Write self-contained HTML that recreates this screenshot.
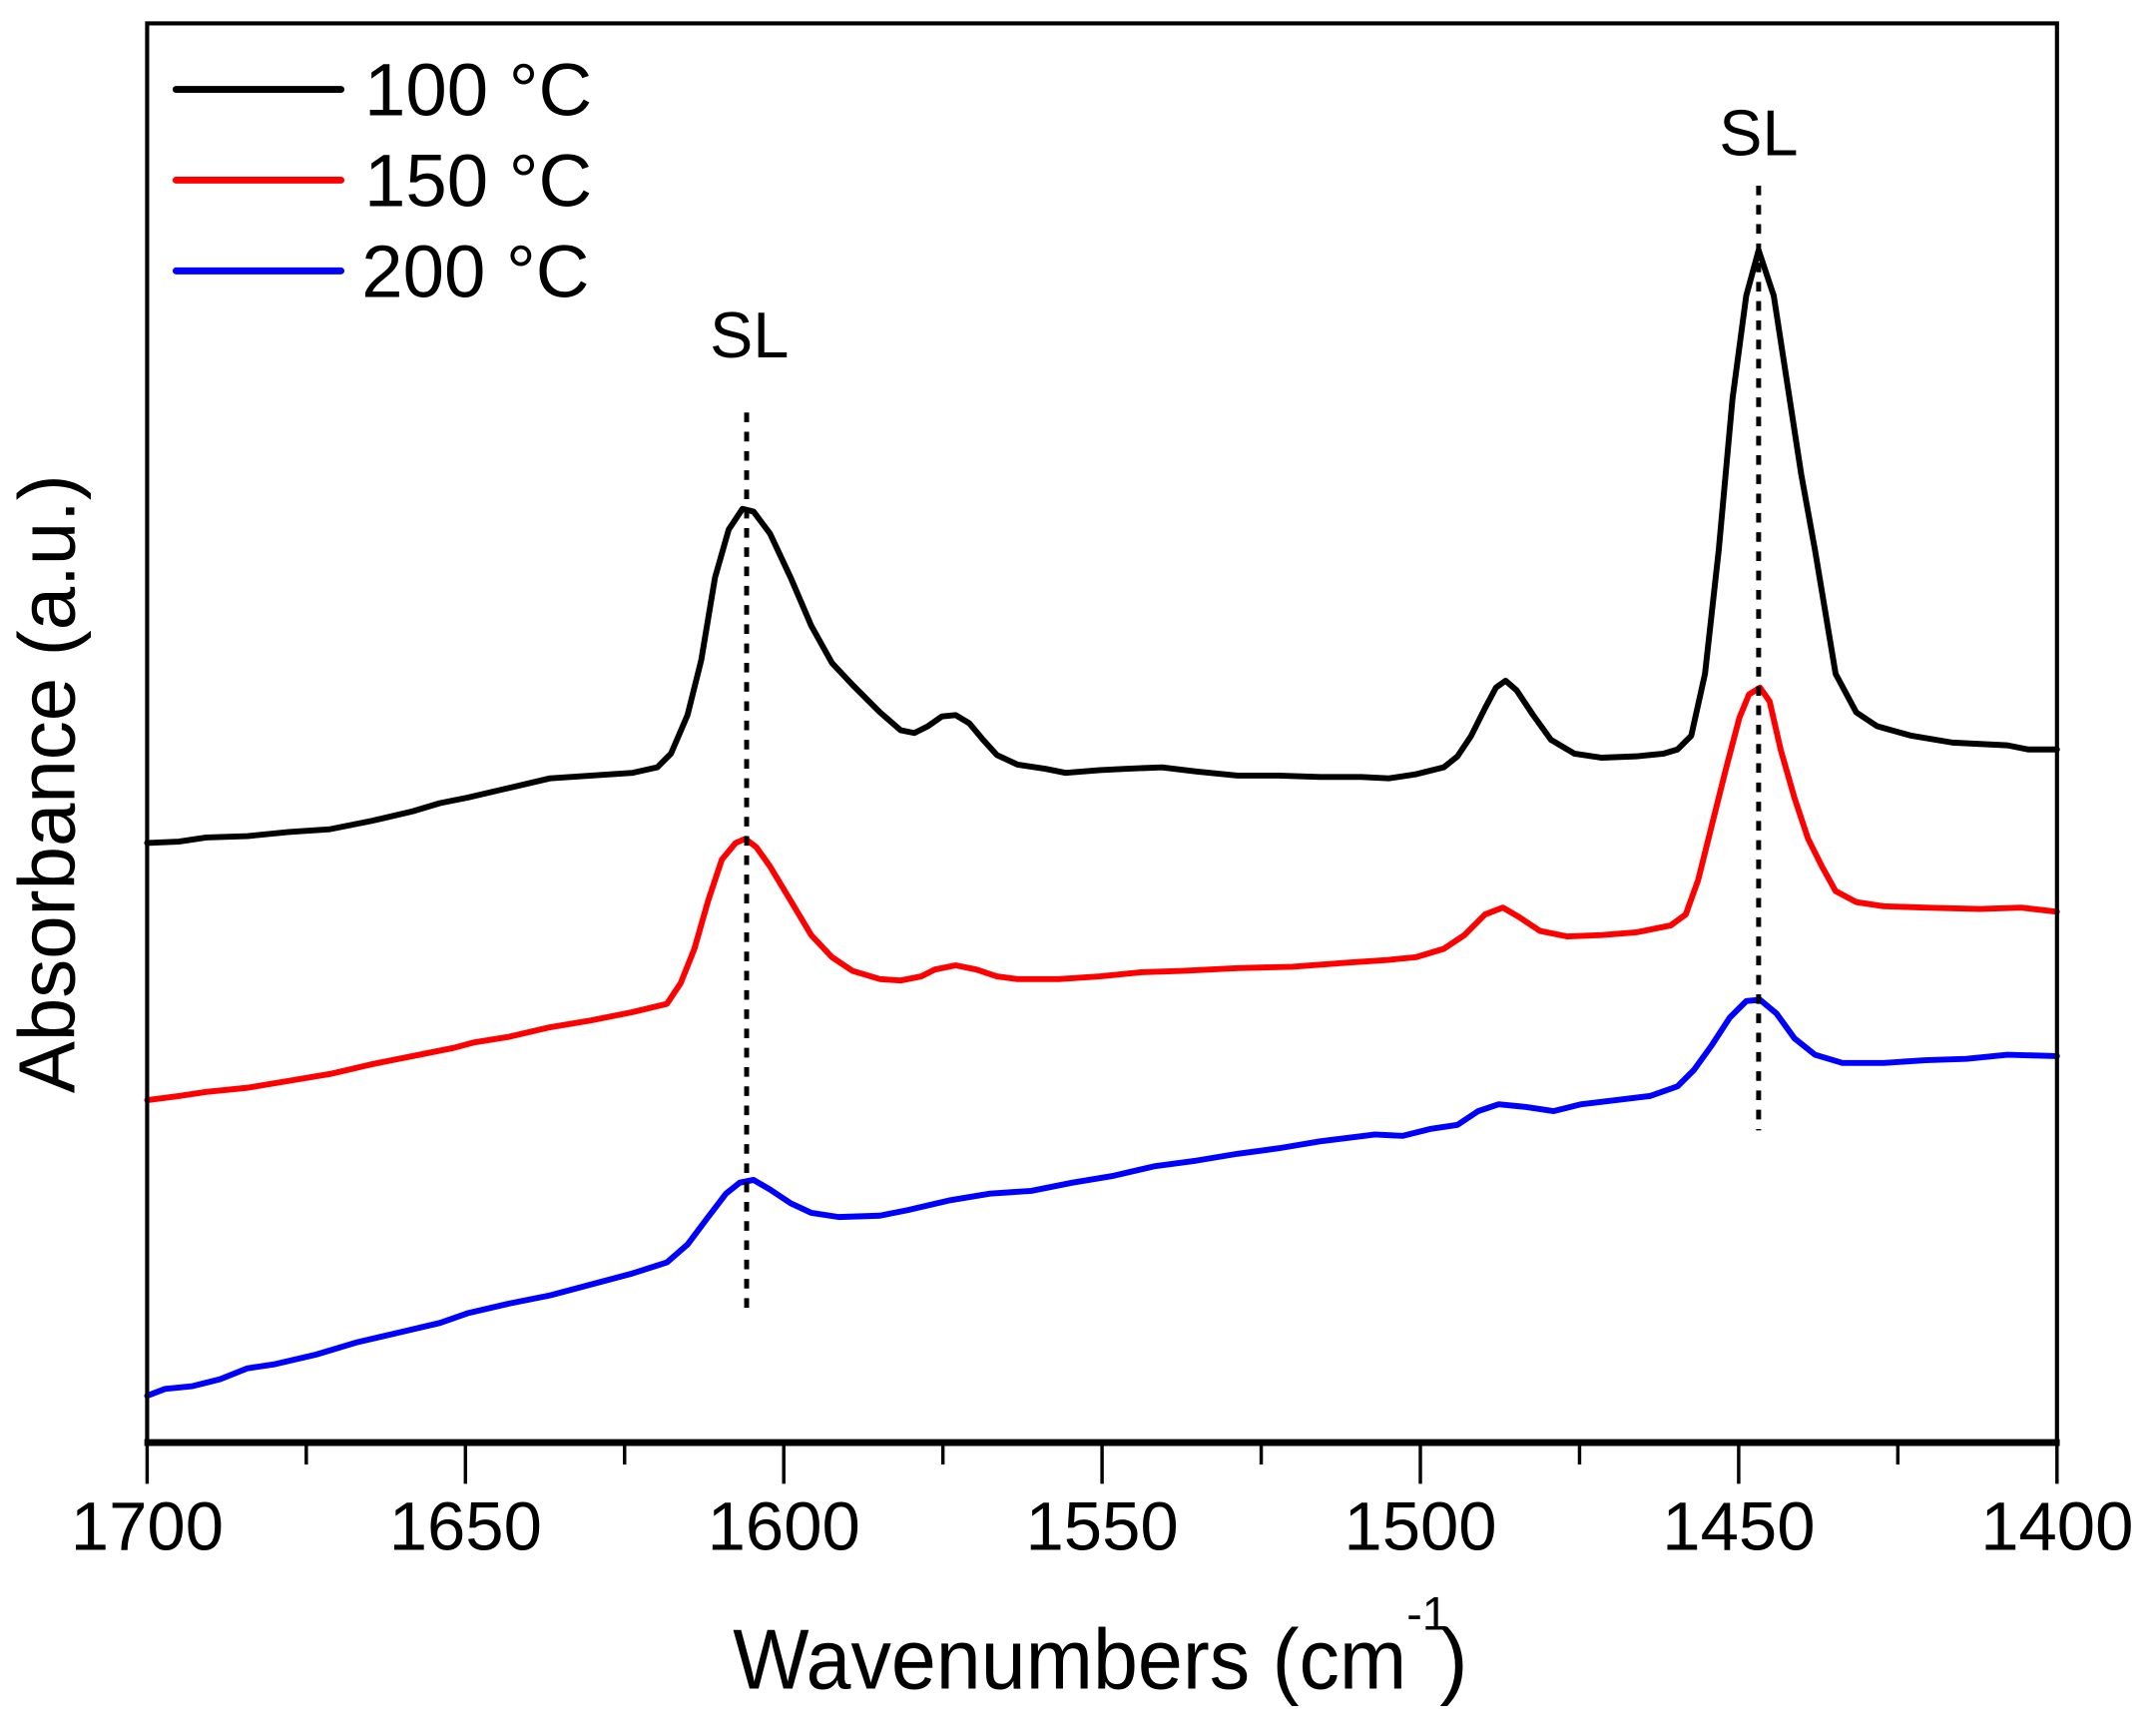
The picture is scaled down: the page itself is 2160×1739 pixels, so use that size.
<!DOCTYPE html>
<html><head><meta charset="utf-8"><style>
html,body{margin:0;padding:0;background:#fff;}
svg{display:block;}
text{font-family:"Liberation Sans",Arial,sans-serif;fill:#000;}
</style></head><body>
<svg width="2160" height="1739" viewBox="0 0 1568 1262.4" xmlns="http://www.w3.org/2000/svg">
<rect x="0" y="0" width="1568" height="1262.4" fill="#fff"/>
<g fill="none" stroke-linejoin="round" stroke-linecap="round" stroke-width="4.3">
<polyline stroke="#000" points="107,613 130,612 150,609 180,608 210,605 240,603 270,597 300,590 320,584 340,580 370,573 400,566 430,564 460,562 478,558 488,548 500,520 510,480 520,420 530,385 540,370 548,372 560,388 575,420 590,455 605,482 620,498 640,518 655,531 665,533 675,528 685,521 695,520 705,526 715,538 725,549 740,556 760,559 775,562 800,560 820,559 845,558 870,561 900,564 930,564 960,565 990,565 1010,566 1030,563 1050,558 1060,550 1070,535 1080,515 1088,500 1095,495 1103,502 1115,520 1128,538 1145,548 1165,551 1190,550 1210,548 1220,545 1230,535 1240,490 1250,400 1260,290 1270,215 1279,182 1290,215 1300,280 1310,345 1320,400 1335,490 1350,518 1365,528 1390,535 1420,540 1460,542 1475,545 1496,545"/>
<polyline stroke="#f00" points="107,800 130,797 150,794 180,791 210,786 240,781 270,774 300,768 330,762 345,758 370,754 400,747 430,742 460,736 485,730 495,715 505,690 515,655 525,625 535,613 542,610 550,616 560,630 575,655 590,680 605,696 620,706 640,712 655,713 670,710 680,705 695,702 710,705 725,710 740,712 770,712 800,710 830,707 860,706 900,704 940,703 980,700 1010,698 1030,696 1050,690 1065,680 1080,665 1093,660 1105,667 1120,677 1140,681 1165,680 1190,678 1215,673 1226,665 1235,640 1245,600 1255,560 1265,522 1272,505 1280,500 1287,510 1295,545 1305,580 1315,610 1325,630 1335,648 1350,656 1370,659 1400,660 1440,661 1470,660 1496,663"/>
<polyline stroke="#00f" points="107,1015 120,1010 140,1008 160,1003 180,995 200,992 230,985 260,976 290,969 320,962 340,955 370,948 400,942 430,934 460,926 485,918 500,905 515,885 528,868 538,860 548,858 560,865 575,875 590,882 610,885 640,884 660,880 690,873 720,868 750,866 780,860 810,855 840,848 870,844 900,839 930,835 960,830 1000,825 1020,826 1040,821 1060,818 1075,808 1090,803 1110,805 1130,808 1150,803 1175,800 1200,797 1220,790 1232,778 1245,760 1258,740 1270,728 1280,727 1292,737 1305,755 1320,767 1340,773 1370,773 1400,771 1430,770 1460,767 1496,768"/>
</g>
<g stroke="#000" stroke-width="3.6" stroke-dasharray="7,7">
<line x1="543" y1="300" x2="543" y2="958"/>
<line x1="1279" y1="135" x2="1279" y2="822"/>
</g>
<rect x="107" y="17" width="1389" height="1032" fill="none" stroke="#000" stroke-width="3"/>
<line x1="105" y1="1049" x2="1498" y2="1049" stroke="#000" stroke-width="5"/>
<g stroke="#000" stroke-width="2.5">
<line x1="107" y1="1049" x2="107" y2="1079"/><line x1="222.75" y1="1049" x2="222.75" y2="1065"/>
<line x1="338.5" y1="1049" x2="338.5" y2="1079"/><line x1="454.25" y1="1049" x2="454.25" y2="1065"/>
<line x1="570" y1="1049" x2="570" y2="1079"/><line x1="685.75" y1="1049" x2="685.75" y2="1065"/>
<line x1="801.5" y1="1049" x2="801.5" y2="1079"/><line x1="917.25" y1="1049" x2="917.25" y2="1065"/>
<line x1="1033" y1="1049" x2="1033" y2="1079"/><line x1="1148.75" y1="1049" x2="1148.75" y2="1065"/>
<line x1="1264.5" y1="1049" x2="1264.5" y2="1079"/><line x1="1380.25" y1="1049" x2="1380.25" y2="1065"/>
<line x1="1496" y1="1049" x2="1496" y2="1079"/>
</g>
<g font-size="50" text-anchor="middle">
<text x="107" y="1127">1700</text><text x="338.5" y="1127">1650</text><text x="570" y="1127">1600</text>
<text x="801.5" y="1127">1550</text><text x="1033" y="1127">1500</text><text x="1264.5" y="1127">1450</text>
<text x="1496" y="1127">1400</text>
</g>
<text x="533" y="1228" font-size="62" textLength="490" lengthAdjust="spacingAndGlyphs">Wavenumbers (cm</text>
<text x="1023" y="1185" font-size="34">-1</text>
<text x="1047" y="1228" font-size="62">)</text>
<text transform="translate(54,570) rotate(-90)" text-anchor="middle" font-size="58" textLength="450" lengthAdjust="spacingAndGlyphs">Absorbance (a.u.)</text>
<g stroke-width="5" stroke-linecap="round">
<line x1="128" y1="65" x2="248" y2="65" stroke="#000"/>
<line x1="128" y1="131" x2="248" y2="131" stroke="#f00"/>
<line x1="128" y1="197" x2="248" y2="197" stroke="#00f"/>
</g>
<g font-size="54">
<text x="265" y="84">100 °C</text>
<text x="265" y="150">150 °C</text>
<text x="263" y="216">200 °C</text>
</g>
<g font-size="47" text-anchor="middle">
<text x="545" y="260">SL</text>
<text x="1279" y="113">SL</text>
</g>
</svg>
</body></html>
